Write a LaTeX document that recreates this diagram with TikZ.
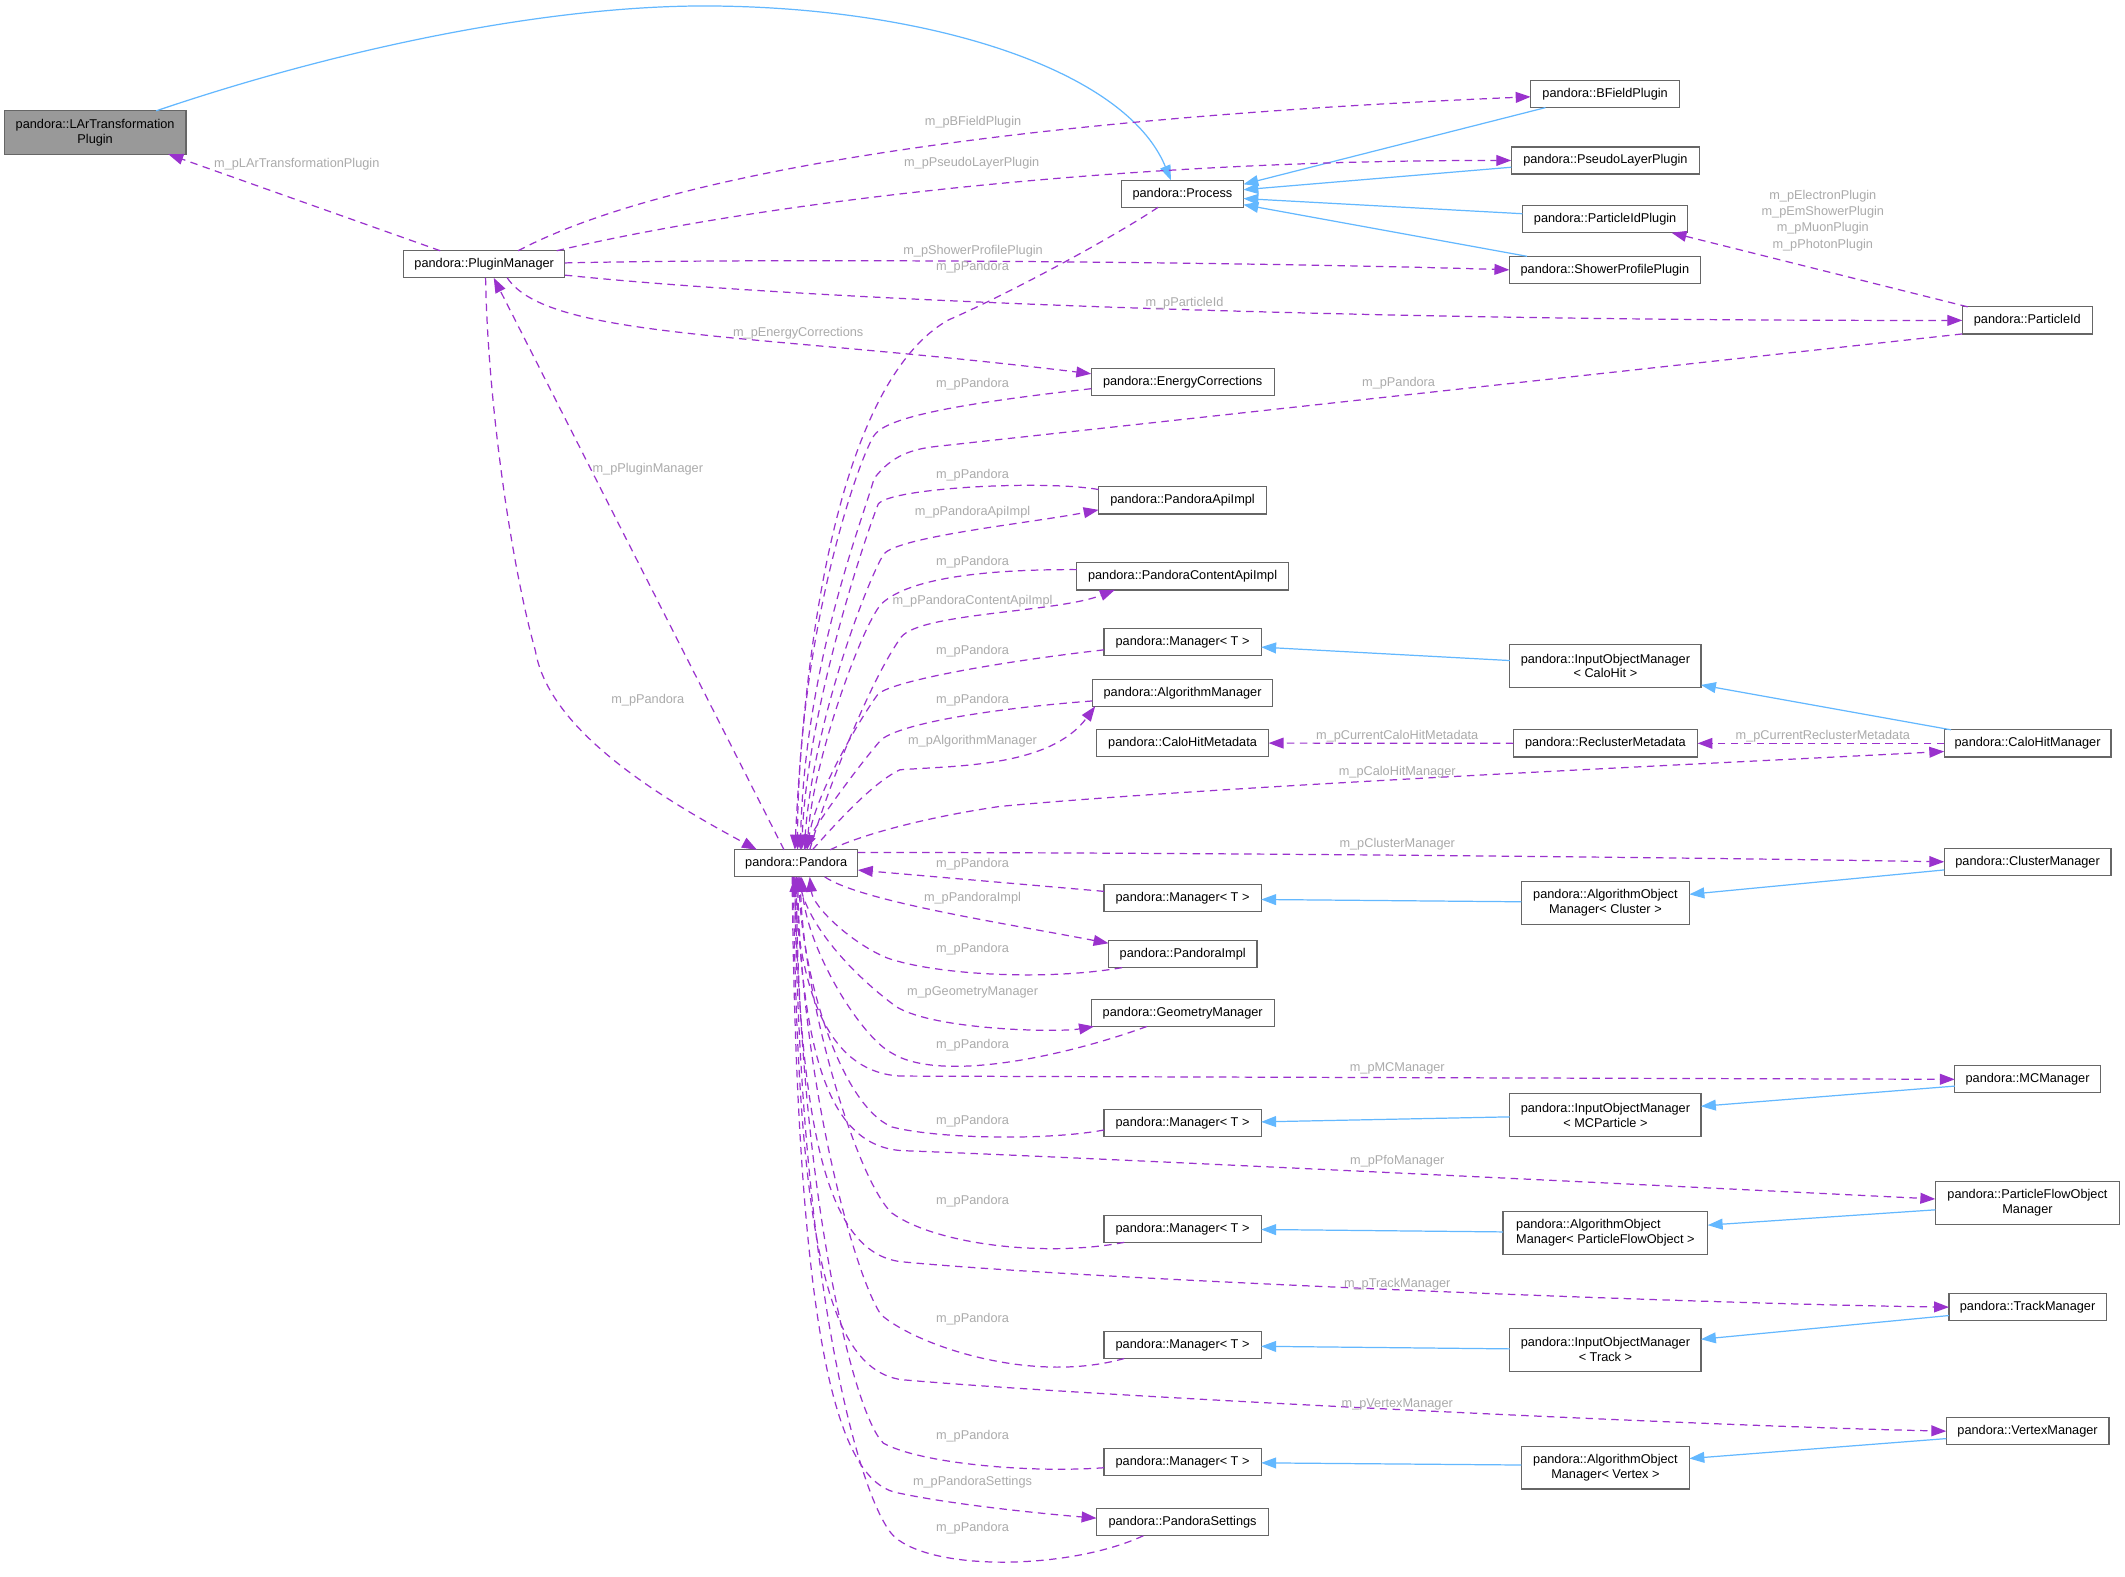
\documentclass[tikz,border=0pt]{standalone}
\usepackage{fontspec}
\setmainfont{Liberation Sans}
\usetikzlibrary{arrows.meta,calc}
\definecolor{usecol}{HTML}{9A32CD}
\definecolor{inhcol}{HTML}{63B8FF}
\definecolor{boxcol}{HTML}{666666}
\definecolor{lblcol}{HTML}{ABABAB}
\definecolor{larcol}{HTML}{999999}
\tikzset{
  cls/.style={draw=boxcol, line width=0.9pt, fill=white, inner sep=0pt, outer sep=0pt,
    font=\fontsize{9.4}{11}\selectfont, align=center, minimum height=20pt},
  usedge/.style={draw=usecol, line width=0.9pt, dash pattern=on 5.5pt off 4pt,
    -{Triangle[length=11pt,width=8pt]}},
  inhedge/.style={draw=inhcol, line width=0.9pt, -{Triangle[length=11pt,width=8pt]}},
  lbl/.style={text=lblcol, font=\fontsize{9.4}{11}\selectfont, inner sep=0pt, align=center},
}
\begin{document}
\begin{tikzpicture}[x=1pt,y=-1pt]
\fill[white] (0,0) rectangle (1568,1163);
\useasboundingbox (0,0) rectangle (1568,1163);

% ---------- nodes ----------
\node[cls, fill=larcol, minimum width=134pt, minimum height=32pt] (lar) at (70.2,97.8) {pandora::LArTransformation\\Plugin};
\node[cls, minimum width=119pt] (pm) at (357.3,195) {pandora::PluginManager};
\node[cls, minimum width=90pt] (proc) at (872.5,143) {pandora::Process};
\node[cls, minimum width=110pt] (bfp) at (1184.4,69.4) {pandora::BFieldPlugin};
\node[cls, minimum width=139pt] (plp) at (1184.6,118.4) {pandora::PseudoLayerPlugin};
\node[cls, minimum width=122pt] (pidp) at (1184.4,161.7) {pandora::ParticleIdPlugin};
\node[cls, minimum width=141pt] (spp) at (1184.2,199.1) {pandora::ShowerProfilePlugin};
\node[cls, minimum width=96pt] (pid) at (1495.9,236.4) {pandora::ParticleId};
\node[cls, minimum width=135pt] (ec) at (872.7,281.8) {pandora::EnergyCorrections};
\node[cls, minimum width=124pt] (pai) at (872.6,369.2) {pandora::PandoraApiImpl};
\node[cls, minimum width=156pt] (pcai) at (872.6,425.3) {pandora::PandoraContentApiImpl};
\node[cls, minimum width=116pt] (m1) at (872.6,473.5) {pandora::Manager< T >};
\node[cls, minimum width=133pt] (am) at (872.6,511.2) {pandora::AlgorithmManager};
\node[cls, minimum width=127pt] (chmd) at (872.6,548.3) {pandora::CaloHitMetadata};
\node[cls, minimum width=141pt, minimum height=32pt] (iomc) at (1184.6,491.4) {pandora::InputObjectManager\\< CaloHit >};
\node[cls, minimum width=136pt] (rm) at (1184.6,548.5) {pandora::ReclusterMetadata};
\node[cls, minimum width=123pt] (chm) at (1496.1,548.5) {pandora::CaloHitManager};
\node[cls, minimum width=91pt] (pan) at (587.5,637) {pandora::Pandora};
\node[cls, minimum width=123pt] (cm) at (1496.1,635.9) {pandora::ClusterManager};
\node[cls, minimum width=116pt] (m2) at (872.6,662.7) {pandora::Manager< T >};
\node[cls, minimum width=124pt, minimum height=31.5pt] (aomc) at (1184.6,666.4) {pandora::AlgorithmObject\\Manager< Cluster >};
\node[cls, minimum width=109.5pt] (pi) at (872.7,704) {pandora::PandoraImpl};
\node[cls, minimum width=135pt] (gm) at (872.7,747.4) {pandora::GeometryManager};
\node[cls, minimum width=107.4pt] (mcm) at (1496.1,796.4) {pandora::MCManager};
\node[cls, minimum width=116pt] (m3) at (872.6,828.8) {pandora::Manager< T >};
\node[cls, minimum width=141pt, minimum height=32pt] (iomm) at (1184.6,822.8) {pandora::InputObjectManager\\< MCParticle >};
\node[cls, minimum width=136pt, minimum height=31.5pt] (pfom) at (1496,887.7) {pandora::ParticleFlowObject\\Manager};
\node[cls, minimum width=116pt] (m4) at (872.6,906.7) {pandora::Manager< T >};
\node[cls, minimum width=151pt, minimum height=32pt, align=left] (aomp) at (1184.6,909.7) {pandora::AlgorithmObject\\Manager< ParticleFlowObject >};
\node[cls, minimum width=116pt] (tm) at (1496.1,964.5) {pandora::TrackManager};
\node[cls, minimum width=116pt] (m5) at (872.6,992.4) {pandora::Manager< T >};
\node[cls, minimum width=141pt, minimum height=31.5pt] (iomt) at (1184.6,996) {pandora::InputObjectManager\\< Track >};
\node[cls, minimum width=120pt] (vm) at (1496.1,1056) {pandora::VertexManager};
\node[cls, minimum width=116pt] (m6) at (872.6,1079) {pandora::Manager< T >};
\node[cls, minimum width=124pt, minimum height=31.5pt] (aomv) at (1184.6,1083) {pandora::AlgorithmObject\\Manager< Vertex >};
\node[cls, minimum width=127pt] (ps) at (872.6,1123.2) {pandora::PandoraSettings};

% ---------- inheritance ----------
\draw[inhedge] ($(lar.north east)+(-22,0)$) .. controls (250,36) and (400,5) .. (516.6,4.4)
  .. controls (680,4) and (830,50) .. ($(proc.north)+(-8.5,0)$);
\draw[inhedge] ($(bfp.south west)+(11,0)$) -- ($(proc.east)+(0,-7)$);
\draw[inhedge] ($(plp.west)+(0,5)$) -- ($(proc.east)+(0,-3)$);
\draw[inhedge] ($(pidp.west)+(0,-4)$) -- ($(proc.east)+(0,3.5)$);
\draw[inhedge] ($(spp.north west)+(13,0)$) -- ($(proc.east)+(0,8)$);
\draw[inhedge] ($(iomc.west)+(0,-4)$) -- ($(m1.east)+(0,4)$);
\draw[inhedge] ($(chm.north west)+(5,0)$) -- ($(iomc.south east)+(0,-2)$);
\draw[inhedge] ($(cm.west)+(0,6)$) -- ($(aomc.east)+(0,-6.5)$);
\draw[inhedge] ($(aomc.west)+(0,-1)$) -- ($(m2.east)+(0,1)$);
\draw[inhedge] ($(mcm.west)+(0,5)$) -- ($(iomm.east)+(0,-6.5)$);
\draw[inhedge] ($(iomm.west)+(0,1.3)$) -- ($(m3.east)+(0,-1)$);
\draw[inhedge] ($(pfom.west)+(0,5)$) -- ($(aomp.east)+(0,-5.7)$);
\draw[inhedge] ($(aomp.west)+(0,-0.7)$) -- ($(m4.east)+(0,0.5)$);
\draw[inhedge] ($(tm.west)+(0,6.2)$) -- ($(iomt.east)+(0,-7.8)$);
\draw[inhedge] ($(iomt.west)+(0,-0.7)$) -- ($(m5.east)+(0,1)$);
\draw[inhedge] ($(vm.west)+(0,5.5)$) -- ($(aomv.east)+(0,-6.8)$);
\draw[inhedge] ($(aomv.west)+(0,-2)$) -- ($(m6.east)+(0,0.4)$);

% ---------- usage: plugin manager ----------
\draw[usedge] ($(pm.north west)+(27,0)$) -- ($(lar.south east)+(-13,0)$);
\draw[usedge] ($(pm.north)+(25,0)$) .. controls (502,122) and (780,86) .. ($(bfp.west)+(0,2)$);
\draw[usedge] ($(pm.north east)+(-6,0)$) .. controls (560,150) and (820,118) .. (plp.west);
\draw[usedge] ($(pm.east)+(0,-1)$) .. controls (600,190) and (950,194) .. (spp.west);
\draw[usedge] ($(pm.south east)+(0,-2)$) .. controls (600,222) and (1000,237) .. (pid.west);
\draw[usedge] ($(pm.south)+(17,0)$) .. controls (404,250) and (556,245.5) .. ($(ec.west)+(0,-6)$);
\draw[usedge] ($(pm.south)+(1,0)$) .. controls (360,300) and (378,420) .. (395,480)
  .. controls (405,540) and (490,590) .. ($(pan.north)+(-29,0)$);
\draw[usedge] ($(pan.north)+(-9,0)$) -- ($(pm.south)+(7,0)$);

% ---------- usage: particle id ----------
\draw[usedge] ($(pid.north west)+(4,0)$) -- ($(pidp.south)+(49,0)$);
\draw[usedge] (pid.south west) -- (690,329.5) .. controls (668,332) and (656,339) .. (645,353)
  .. controls (636,385) and (594,490) .. ($(pan.north)+(3,0)$);

% ---------- usage: top fan into Pandora ----------
\draw[usedge] ($(proc.south)+(-18,0)$) .. controls (814.5,179.5) and (735,221) .. (700,236)
  .. controls (655,261) and (600,350) .. ($(pan.north)+(-1,0)$);
\draw[usedge] ($(ec.west)+(0,5)$) .. controls (697,299) and (652,309) .. (644.5,322)
  .. controls (629.5,348) and (588.5,477) .. ($(pan.north)+(1,0)$);
\draw[usedge] ($(pai.west)+(0,-8)$) .. controls (770,354) and (656,360) .. (648,372)
  .. controls (640,392) and (596,520) .. ($(pan.north)+(4,0)$);
\draw[usedge] ($(pan.north)+(6,0)$) .. controls (597,540) and (640,428) .. (652,409)
  .. controls (662,396) and (760,386) .. ($(pai.west)+(0,7)$);
\draw[usedge] ($(pcai.west)+(0,-5)$) .. controls (720,420) and (668,428) .. (650,446)
  .. controls (636,462) and (600,560) .. ($(pan.north)+(8,0)$);
\draw[usedge] ($(pan.north)+(10,0)$) .. controls (608,590) and (640,505) .. (665,470)
  .. controls (680,452) and (780,452) .. ($(pcai.south west)+(28,0)$);
\draw[usedge] ($(m1.west)+(0,6)$) .. controls (740,488) and (660,502) .. (648,512)
  .. controls (636,528) and (602,585) .. ($(pan.north)+(8,0)$);
\draw[usedge] ($(am.west)+(0,6)$) .. controls (730,523) and (664,534) .. (650,546)
  .. controls (636,562) and (604,605) .. ($(pan.north)+(6,0)$);
\draw[usedge] ($(pan.north)+(12,0)$) .. controls (620,604) and (645,577) .. (664,568)
  .. controls (705,565) and (775,566) .. ($(am.south west)+(2,0)$);
\draw[usedge] ($(pan.north)+(25,0)$) .. controls (640,614) and (690,602) .. (738,595)
  .. controls (900,580) and (1250,564) .. ($(chm.west)+(0,6)$);
\draw[usedge] ($(pan.east)+(0,-8)$) .. controls (850,629) and (1200,632) .. (cm.west);
\draw[usedge] ($(m2.west)+(0,-5)$) -- ($(pan.east)+(0,5)$);

% ---------- usage: metadata ----------
\draw[usedge] (rm.west) -- (chmd.east);
\draw[usedge] (chm.west) -- (rm.east);

% ---------- usage: bottom fan ----------
\draw[usedge] ($(pan.south)+(21,0)$) .. controls (635,665) and (740,681) .. ($(pi.north west)+(0,2)$);
\draw[usedge] ($(pi.south west)+(10,0)$) .. controls (770,724) and (690,719) .. (655,707)
  .. controls (630,697) and (600,670) .. ($(pan.south)+(10,0)$);
\draw[usedge] ($(pan.south)+(2,0)$) .. controls (592,680) and (630,720) .. (661.6,743)
  .. controls (690,760) and (780,762) .. ($(gm.south west)+(2,0)$);
\draw[usedge] ($(gm.south)+(-26.5,0)$) .. controls (790,778) and (695,800) .. (658,777)
  .. controls (635,765) and (595,700) .. ($(pan.south)+(4,0)$);
\draw[usedge] ($(pan.south)+(-2,0)$) .. controls (590,740) and (615,792) .. (665,794) -- (mcm.west);
\draw[usedge] ($(m3.west)+(0,5)$) .. controls (770,842) and (690,840) .. (658,831.5)
  .. controls (620,815) and (592,720) .. ($(pan.south)+(2,0)$);
\draw[usedge] (pan.south) .. controls (592,780) and (612,845) .. (665,849)
  .. controls (800,854) and (1250,876) .. ($(pfom.west)+(0,-3)$);
\draw[usedge] ($(m4.south west)+(15,0)$) .. controls (770,928) and (690,918) .. (658,895)
  .. controls (632,870) and (593,740) .. ($(pan.south)+(3,0)$);
\draw[usedge] ($(pan.south)+(-1,0)$) .. controls (590,850) and (615,925) .. (665,931)
  .. controls (800,944) and (1250,962) .. (tm.west);
\draw[usedge] ($(m5.south west)+(15,0)$) .. controls (760,1022) and (675,992) .. (650,970)
  .. controls (630,940) and (592,800) .. ($(pan.south)+(1,0)$);
\draw[usedge] ($(pan.south)+(-2,0)$) .. controls (588,920) and (612,1010) .. (665,1018)
  .. controls (800,1030) and (1250,1052) .. (vm.west);
\draw[usedge] ($(m6.west)+(0,4)$) .. controls (760,1087) and (680,1080) .. (652,1065)
  .. controls (630,1045) and (590,880) .. (pan.south);
\draw[usedge] ($(pan.south)+(-3,0)$) .. controls (588,1000) and (620,1090) .. (660,1101)
  .. controls (700,1110) and (770,1117) .. ($(ps.west)+(0,-3)$);
\draw[usedge] ($(ps.south)+(-29,0)$) .. controls (790,1158) and (690,1160) .. (660,1134)
  .. controls (635,1110) and (590,950) .. ($(pan.south)+(-1,0)$);

% ---------- labels ----------
\node[lbl] (lLAr) at (219,121) {m\_pLArTransformationPlugin};
\node[lbl] (lBF) at (718,90.5) {m\_pBFieldPlugin};
\node[lbl] (lPL) at (717,120.5) {m\_pPseudoLayerPlugin};
\node[lbl] (lSP) at (718,185.7) {m\_pShowerProfilePlugin};
\node[lbl] (lPr) at (717.6,197.5) {m\_pPandora};
\node[lbl] (lPId) at (874,224) {m\_pParticleId};
\node[lbl] (lEC) at (589,245.5) {m\_pEnergyCorrections};
\node[lbl] (lECp) at (717.6,283.6) {m\_pPandora};
\node[lbl] (lPIDp) at (1032,282.5) {m\_pPandora};
\node[lbl, font=\fontsize{9.4}{11.9}\selectfont] (lPlug) at (1345,162.8) {m\_pElectronPlugin\\m\_pEmShowerPlugin\\m\_pMuonPlugin\\m\_pPhotonPlugin};
\node[lbl] (lPM) at (478,346) {m\_pPluginManager};
\node[lbl] (lPMp) at (478,517) {m\_pPandora};
\node[lbl] (lPAIp) at (717.6,350.6) {m\_pPandora};
\node[lbl] (lPAI) at (717.6,378.1) {m\_pPandoraApiImpl};
\node[lbl] (lPCAIp) at (717.6,415.2) {m\_pPandora};
\node[lbl] (lPCAI) at (717.6,443.3) {m\_pPandoraContentApiImpl};
\node[lbl] (lM1p) at (717.6,480.4) {m\_pPandora};
\node[lbl] (lAMp) at (717.6,516.6) {m\_pPandora};
\node[lbl] (lAM) at (717.6,546.6) {m\_pAlgorithmManager};
\node[lbl] (lCHMD) at (1031,542.9) {m\_pCurrentCaloHitMetadata};
\node[lbl] (lRM) at (1345,543.2) {m\_pCurrentReclusterMetadata};
\node[lbl] (lCHM) at (1031,569.5) {m\_pCaloHitManager};
\node[lbl] (lCM) at (1031,622.9) {m\_pClusterManager};
\node[lbl] (lM2p) at (717.6,637.7) {m\_pPandora};
\node[lbl] (lPI) at (717.6,663) {m\_pPandoraImpl};
\node[lbl] (lPIp) at (717.6,700.4) {m\_pPandora};
\node[lbl] (lGM) at (717.6,731.9) {m\_pGeometryManager};
\node[lbl] (lGMp) at (717.6,771.2) {m\_pPandora};
\node[lbl] (lMC) at (1031,788.5) {m\_pMCManager};
\node[lbl] (lM3p) at (717.6,827.1) {m\_pPandora};
\node[lbl] (lPFO) at (1031,856.5) {m\_pPfoManager};
\node[lbl] (lM4p) at (717.6,886.1) {m\_pPandora};
\node[lbl] (lTM) at (1031,947.5) {m\_pTrackManager};
\node[lbl] (lM5p) at (717.6,973.4) {m\_pPandora};
\node[lbl] (lVM) at (1031,1036.4) {m\_pVertexManager};
\node[lbl] (lM6p) at (717.6,1059.5) {m\_pPandora};
\node[lbl] (lPS) at (717.6,1094) {m\_pPandoraSettings};
\node[lbl] (lPSp) at (717.6,1127.4) {m\_pPandora};
\end{tikzpicture}
\end{document}
